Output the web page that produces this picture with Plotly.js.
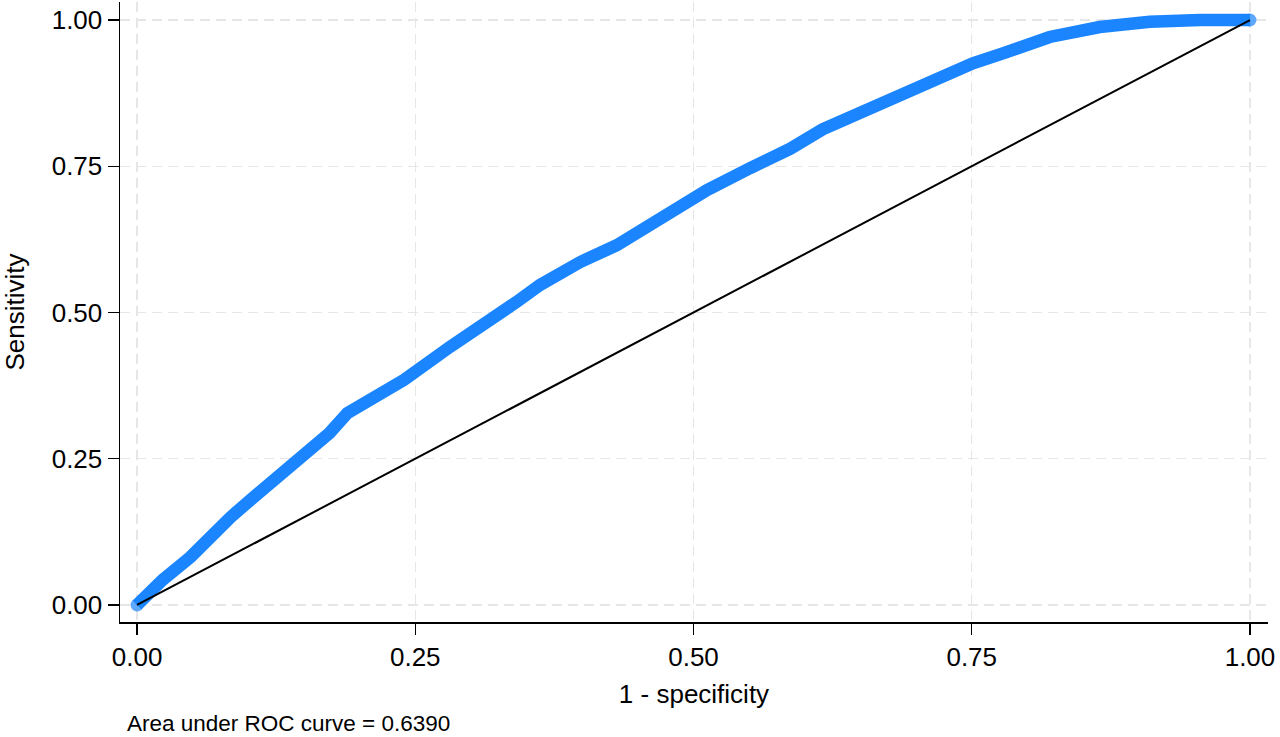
<!DOCTYPE html>
<html>
<head>
<meta charset="utf-8">
<script src="https://cdn.plot.ly/plotly-3.0.1.min.js"></script>
<style>
  html, body { margin: 0; padding: 0; background: #ffffff; }
  #chart { width: 1280px; height: 737px; }
</style>
</head>
<body>
<div id="chart"></div>
<script>
// ROC curve
const fpr = [0, 0.023, 0.048, 0.068, 0.084, 0.104, 0.126, 0.153, 0.173, 0.189, 0.212, 0.240, 0.281, 0.317, 0.341, 0.362, 0.398, 0.431, 0.464, 0.494, 0.512, 0.551, 0.587, 0.616, 0.665, 0.715, 0.751, 0.778, 0.820, 0.865, 0.910, 0.955, 1.0];
const tpr = [0, 0.043, 0.082, 0.123, 0.150, 0.183, 0.219, 0.262, 0.294, 0.328, 0.354, 0.385, 0.441, 0.484, 0.518, 0.547, 0.586, 0.615, 0.655, 0.687, 0.709, 0.747, 0.780, 0.813, 0.855, 0.901, 0.926, 0.943, 0.971, 0.988, 0.997, 1.0, 1.0];
const refX = [0, 1];
const refY = [0, 1];
const tickVals = [0, 0.25, 0.5, 0.75, 1];
const tickText = ["0.00", "0.25", "0.50", "0.75", "1.00"];
const xTitle = "1 - specificity";
const yTitle = "Sensitivity";
const note = "Area under ROC curve = 0.6390";

const FONT = '"Liberation Sans", Arial, Helvetica, sans-serif';
const BLUE = 'rgb(26,133,255)';
// round end caps only at the two ends of the curve
const capSizes = fpr.map((v, i) => (i === 0 || i === fpr.length - 1) ? 13 : 0);

const traces = [
  {
    x: fpr, y: tpr, type: 'scatter', mode: 'lines+markers',
    line: { color: BLUE, width: 12.5 },
    marker: { color: BLUE, size: capSizes, line: { width: 0 } },
    hoverinfo: 'skip', showlegend: false
  },
  {
    x: refX, y: refY, type: 'scatter', mode: 'lines',
    line: { color: '#000000', width: 2 },
    hoverinfo: 'skip', showlegend: false
  }
];

const axisCommon = {
  tickmode: 'array',
  tickvals: tickVals,
  ticktext: tickText,
  ticks: 'outside',
  ticklen: 11,
  tickwidth: 1.5,
  tickcolor: '#000',
  showline: true,
  linecolor: '#000',
  linewidth: 1.5,
  showgrid: true,
  gridcolor: '#e6e6e6',
  gridwidth: 1.5,
  griddash: '10px,6px',
  zeroline: false,
  tickfont: { family: FONT, size: 26, color: '#000' }
};

const layout = {
  width: 1280, height: 737,
  paper_bgcolor: '#ffffff', plot_bgcolor: '#ffffff',
  margin: { l: 120, r: 12, t: 2, b: 115 },
  xaxis: Object.assign({}, axisCommon, {
    range: [-0.0153, 1.0162],
    title: { text: xTitle, font: { family: FONT, size: 26, color: '#000' }, standoff: 14 }
  }),
  yaxis: Object.assign({}, axisCommon, {
    range: [-0.0291, 1.0308],
    title: { text: yTitle, font: { family: FONT, size: 26, color: '#000' }, standoff: 20 }
  }),
  annotations: [{
    text: note, xref: 'paper', yref: 'paper',
    x: 0.0044, y: -0.163, xanchor: 'left', yanchor: 'middle',
    showarrow: false, font: { family: FONT, size: 22.5, color: '#000' }
  }],
  showlegend: false
};

Plotly.newPlot('chart', traces, layout, { displayModeBar: false, staticPlot: true });
</script>
</body>
</html>
